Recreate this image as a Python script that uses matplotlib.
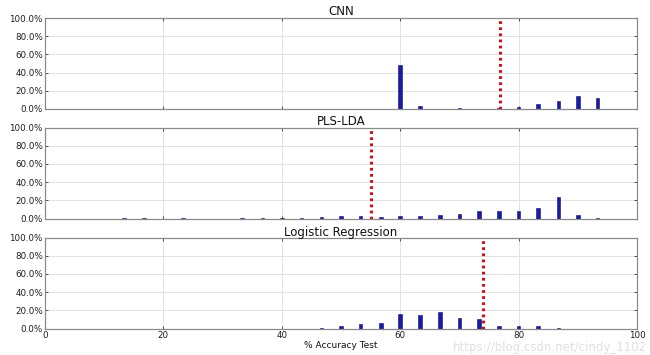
import numpy as np
import matplotlib
matplotlib.use("Agg")
import matplotlib.pyplot as plt
from matplotlib.ticker import FuncFormatter

# accuracy bins (% test accuracy) and share of runs (%)
cnn_acc = [60.0, 63.3, 70.0, 76.7, 80.0, 83.3, 86.7, 90.0, 93.3]
cnn_pct = [48.4, 3.3, 1.1, 1.5, 2.6, 5.1, 8.4, 13.9, 12.5]
cnn_line = 76.9

pls_acc = [13.3, 16.7, 23.3, 33.3, 36.7, 40.0, 43.3, 46.7, 50.0, 53.3, 56.7,
           60.0, 63.3, 66.7, 70.0, 73.3, 76.7, 80.0, 83.3, 86.7, 90.0, 93.3]
pls_pct = [0.3, 0.3, 0.3, 0.5, 0.5, 0.8, 1.0, 1.2, 2.4, 2.6, 2.2,
           3.0, 3.3, 4.0, 5.5, 8.5, 8.5, 8.5, 11.8, 23.7, 4.4, 1.0]
pls_line = 55.0

lr_acc = [46.7, 50.0, 53.3, 56.7, 60.0, 63.3, 66.7, 70.0, 73.3, 76.7, 80.0, 83.3, 86.7]
lr_pct = [0.3, 2.9, 4.7, 6.5, 16.4, 15.3, 18.2, 12.0, 11.0, 2.9, 2.9, 2.5, 0.4]
lr_line = 74.0

titles = ["CNN", "PLS-LDA", "Logistic Regression"]
x_ticks = [0, 20, 40, 60, 80, 100]
y_ticks = [0, 20, 40, 60, 80, 100]

panels = [(cnn_acc, cnn_pct, cnn_line),
          (pls_acc, pls_pct, pls_line),
          (lr_acc, lr_pct, lr_line)]

fig = plt.figure(figsize=(6.5, 3.55), dpi=100)
bottoms = [0.693, 0.3845, 0.0746]
axes = []
for i, (acc, pct, vline) in enumerate(panels):
    ax = fig.add_axes([0.0692, bottoms[i], 0.911, 0.256])
    ax.grid(True, color="#e2e2e2", linewidth=0.7, zorder=0)
    ax.bar(acc, pct, width=0.6, color="#1a1aa8", edgecolor="#0c0c6a",
           linewidth=0.4, zorder=2)
    ax.axvline(vline, color="#cc0f1c", linestyle=(0, (0.9, 1.1)), linewidth=2.2, zorder=3)
    ax.set_xlim(0, 100)
    ax.set_ylim(0, 100)
    ax.set_xticks(x_ticks)
    ax.set_yticks(y_ticks)
    ax.yaxis.set_major_formatter(FuncFormatter(lambda v, p: "%.1f%%" % v))
    ax.tick_params(direction="in", length=2.5, width=0.6, labelsize=6.3,
                   top=True, right=True, pad=1.5, colors="#333333",
                   labelcolor="#1e1e1e")
    for s in ax.spines.values():
        s.set_color("#8a8a8a")
        s.set_linewidth(0.9)
    ax.set_title(titles[i], fontsize=8.5, pad=1.5, color="#111111")
    if i < 2:
        ax.tick_params(labelbottom=False)
    axes.append(ax)

axes[-1].set_xlabel("% Accuracy Test", fontsize=6.5, labelpad=1, color="#111111")

# faint source watermark, bottom right
fig.text(0.995, 0.022, "https://blog.csdn.net/cindy_1102", ha="right", va="center",
         fontsize=8.5, color="#e0e0e0", zorder=0)

fig.savefig("out.png", dpi=100)
